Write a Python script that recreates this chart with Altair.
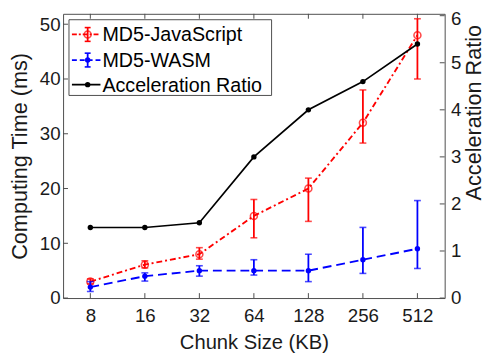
import altair as alt
import pandas as pd

chunks = [8, 16, 32, 64, 128, 256, 512]
js_mean = [3.0, 6.1, 8.0, 15.0, 20.0, 32.0, 48.0]
js_low = [2.6, 5.5, 7.1, 11.0, 14.0, 28.3, 40.0]
js_high = [3.5, 6.8, 9.2, 18.0, 21.9, 38.0, 51.0]
wasm_mean = [2.0, 4.0, 5.0, 5.0, 5.0, 7.0, 9.0]
wasm_low = [1.2, 3.1, 4.0, 4.2, 3.0, 4.5, 5.4]
wasm_high = [3.0, 4.6, 5.9, 7.0, 8.0, 12.9, 17.8]
ratio = [1.5, 1.5, 1.6, 3.0, 4.0, 4.6, 5.4]
left_ticks = [0, 10, 20, 30, 40, 50]
right_ticks = [0, 1, 2, 3, 4, 5, 6]
series_names = ["MD5-JavaScript", "MD5-WASM", "Acceleration Ratio"]

W, H = 388, 289
AX = "#4d4d4d"
RED, BLUE, BLACK = "#ff0000", "#0000ff", "#000000"
JS_DASH = [6, 3, 2, 3]
WA_DASH = [9, 5]

df = pd.DataFrame({
    "chunk": chunks, "js": js_mean, "js_lo": js_low, "js_hi": js_high,
    "wa": wasm_mean, "wa_lo": wasm_low, "wa_hi": wasm_high, "ratio": ratio,
})
df_lt = pd.DataFrame({"v": left_ticks})
df_rt = pd.DataFrame({"v": right_ticks})
one = pd.DataFrame({"a": [0]})

xenc = alt.X("chunk:O", sort=chunks, scale=alt.Scale(type="point", padding=0.5),
             axis=alt.Axis(title="Chunk Size (KB)", labelAngle=0, ticks=False, tickSize=0,
                           domain=False, labelPadding=9, titlePadding=7))
ly = alt.Scale(domain=[0, 51.9], nice=False, zero=False)
ry = alt.Scale(domain=[0, 6.04], nice=False, zero=False)
laxis = alt.Axis(title="Computing Time (ms)", values=left_ticks, ticks=False, tickSize=0,
                 domain=False, labelPadding=3, grid=False,
                 titleX=-37, titleY=H / 2, titleAngle=270, titleAlign="center",
                 titleBaseline="alphabetic")
raxis = alt.Axis(title="Acceleration Ratio", values=right_ticks, ticks=False, tickSize=0,
                 domain=False, labelPadding=6, grid=False, orient="right",
                 labelOffset={"condition": {"test": "datum.value == 6", "value": 3}, "value": 0},
                 titleX=36, titleY=100, titleAngle=270, titleAlign="center",
                 titleBaseline="alphabetic")


def Yl(f):
    return alt.Y(f, scale=ly, axis=laxis)


def Yr(f):
    return alt.Y(f, scale=ry, axis=raxis)


base = alt.Chart(df)

# left axis series
js_line = base.mark_line(color=RED, strokeWidth=1.9, strokeDash=JS_DASH).encode(x=xenc, y=Yl("js:Q"))
js_err = base.mark_rule(color=RED, strokeWidth=1.8).encode(x=xenc, y=Yl("js_lo:Q"), y2="js_hi:Q")
js_cl = base.mark_tick(color=RED, size=7, thickness=1.6).encode(x=xenc, y=Yl("js_lo:Q"))
js_ch = base.mark_tick(color=RED, size=7, thickness=1.6).encode(x=xenc, y=Yl("js_hi:Q"))
js_pt = base.mark_point(color=RED, shape="circle", size=50, strokeWidth=1.6, filled=False).encode(x=xenc, y=Yl("js:Q"))

wa_line = base.mark_line(color=BLUE, strokeWidth=1.9, strokeDash=WA_DASH).encode(x=xenc, y=Yl("wa:Q"))
wa_err = base.mark_rule(color=BLUE, strokeWidth=1.8).encode(x=xenc, y=Yl("wa_lo:Q"), y2="wa_hi:Q")
wa_cl = base.mark_tick(color=BLUE, size=7, thickness=1.6).encode(x=xenc, y=Yl("wa_lo:Q"))
wa_ch = base.mark_tick(color=BLUE, size=7, thickness=1.6).encode(x=xenc, y=Yl("wa_hi:Q"))
wa_pt = base.mark_circle(color=BLUE, size=30, opacity=1).encode(x=xenc, y=Yl("wa:Q"))

lt = alt.Chart(df_lt).mark_rule(color=AX, strokeWidth=1).encode(y=Yl("v:Q"), x=alt.value(0), x2=alt.value(5))
bt = base.mark_rule(color=AX, strokeWidth=1).encode(x=xenc, y=alt.value(H), y2=alt.value(H - 5))
tt = base.mark_rule(color=AX, strokeWidth=1).encode(x=xenc, y=alt.value(0), y2=alt.value(5))

# legend
LX0, LX1, LY0, LY1 = 6, 212, 6, 83
rows = [21, 47, 72]
lg = alt.Chart(one)
leg = [
    lg.mark_rect(fill="white", stroke=AX, strokeWidth=1).encode(
        x=alt.value(LX0), x2=alt.value(LX1), y=alt.value(LY0), y2=alt.value(LY1)),
]
styles = [(RED, JS_DASH, "open"), (BLUE, WA_DASH, "dot"), (BLACK, None, "dot")]
for name, ry_, (col, dash, mk) in zip(series_names, rows, styles):
    kw = dict(color=col, strokeWidth=1.8)
    if dash:
        kw["strokeDash"] = [5, 2, 2, 2] if mk == "open" else [5, 3]
    leg.append(lg.mark_rule(**kw).encode(x=alt.value(9), x2=alt.value(38), y=alt.value(ry_), y2=alt.value(ry_)))
    if col != BLACK:
        leg.append(lg.mark_rule(color=col, strokeWidth=1.8).encode(
            x=alt.value(25), y=alt.value(ry_ - 7), y2=alt.value(ry_ + 7)))
        for dy in (-7, 7):
            leg.append(lg.mark_rule(color=col, strokeWidth=1.6).encode(
                x=alt.value(22), x2=alt.value(28), y=alt.value(ry_ + dy), y2=alt.value(ry_ + dy)))
    if mk == "open":
        leg.append(lg.mark_point(color=col, shape="circle", size=50, strokeWidth=1.6, filled=False).encode(
            x=alt.value(25), y=alt.value(ry_)))
    else:
        leg.append(lg.mark_circle(color=col, size=30, opacity=1).encode(x=alt.value(25), y=alt.value(ry_)))
    leg.append(lg.mark_text(text=name, align="left", baseline="middle", fontSize=20, color=BLACK,
                            font="Liberation Sans").encode(x=alt.value(40), y=alt.value(ry_ + 1)))

left = alt.layer(lt, bt, tt, js_line, js_err, js_cl, js_ch, js_pt,
                 wa_line, wa_err, wa_cl, wa_ch, wa_pt)

r_line = base.mark_line(color=BLACK, strokeWidth=1.7).encode(x=xenc, y=Yr("ratio:Q"))
r_pt = base.mark_circle(color=BLACK, size=30, opacity=1).encode(x=xenc, y=Yr("ratio:Q"))
rt = alt.Chart(df_rt).mark_rule(color=AX, strokeWidth=1).encode(y=Yr("v:Q"), x=alt.value(W - 5), x2=alt.value(W))
right = alt.layer(rt, r_line, r_pt)

chart = alt.layer(left, right, *leg).resolve_scale(y="independent").properties(
    width=W, height=H,
    autosize=alt.AutoSizeParams(type="none"),
    padding={"left": 56, "top": 3, "right": 41, "bottom": 56},
).configure(font="Liberation Sans").configure_view(
    stroke=AX, strokeWidth=1
).configure_axis(
    labelFontSize=19, titleFontSize=22, labelColor="#1a1a1a", titleColor="#1a1a1a",
    titleFontWeight="normal", labelFont="Liberation Sans", titleFont="Liberation Sans",
).configure_axisX(titleFontSize=20.5)

chart.save("out.html", embed_options={"renderer": "svg", "actions": False})
